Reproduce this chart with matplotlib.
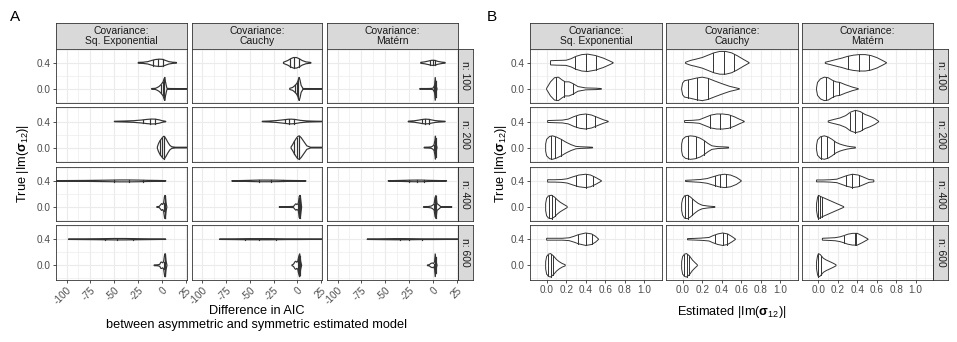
import numpy as np
import matplotlib.pyplot as plt

plt.rcParams.update({
    "font.family": ["Liberation Sans", "DejaVu Sans"],
    "mathtext.fontset": "custom",
    "mathtext.rm": "Liberation Sans",
    "mathtext.it": "Liberation Sans:italic",
    "mathtext.bf": "Liberation Sans:bold",
    "axes.unicode_minus": False,
})

# facets
covariances = ["Covariance:\nSq. Exponential", "Covariance:\nCauchy", "Covariance:\nMatérn"]
sample_sizes = [100, 200, 400, 600]
true_values = [0.0, 0.4]

aic_ticks = [-100, -75, -50, -25, 0, 25]
est_ticks = [0.0, 0.2, 0.4, 0.6, 0.8, 1.0]
y_ticks = [0.0, 0.4]

# violins: (x knots, relative half width, quantile lines)
# per sample size: [Sq. Exponential, Cauchy, Matern], each [true 0.0, true 0.4]
aic_n100 = [
    [([-11, -7, -5, -3, -1, 1, 2, 2.8, 3.5, 5, 8, 26],
      [0.03, 0.05, 0.12, 0.22, 0.38, 0.6, 0.85, 1.0, 0.6, 0.05, 0.03, 0.02], [-1.5, 0.5, 2]),
     ([-25, -20, -15, -11, -7, -3, 0, 3, 7, 11, 15],
      [0.04, 0.05, 0.1, 0.2, 0.28, 0.31, 0.3, 0.22, 0.1, 0.05, 0.03], [-9.5, -4, 0.5])],
    [([-8, -5, -3, -1, 0, 1, 1.5, 2, 3, 4, 6, 26],
      [0.05, 0.12, 0.25, 0.42, 0.55, 0.75, 0.9, 1.0, 0.7, 0.3, 0.03, 0.02], [-2.5, -0.5, 1.2]),
     ([-14.6, -10, -7, -4, -1, 2, 5, 9, 14.3],
      [0.05, 0.2, 0.35, 0.45, 0.45, 0.35, 0.2, 0.08, 0.03], [-7.6, -3, 2.2])],
    [([-14, -6, -2, 0, 1.5, 2.2, 3, 4],
      [0.03, 0.03, 0.04, 0.07, 0.3, 1.0, 0.3, 0.02], [1.2, 2, 2.6]),
     ([-13, -9, -5, -2, 0, 2, 5, 9, 12.6],
      [0.04, 0.08, 0.15, 0.21, 0.22, 0.2, 0.12, 0.06, 0.03], [-3, -0.5, 2])],
]
aic_n200 = [
    [([-5, -4, -2.5, -1, 0.5, 1.5, 2.5, 4, 6, 8, 10, 14, 26],
      [0.05, 0.3, 0.55, 0.72, 0.88, 0.96, 0.93, 0.75, 0.45, 0.2, 0.07, 0.03, 0.03], [-2, 0, 2]),
     ([-50, -40, -30, -22, -16, -11, -7, -3, 0, 3.8],
      [0.02, 0.04, 0.07, 0.12, 0.18, 0.21, 0.2, 0.14, 0.07, 0.02], [-19.5, -12.6, -7.3])],
    [([-6.6, -5, -3, -1, 0.5, 2, 4, 7, 10, 14, 26],
      [0.05, 0.25, 0.55, 0.8, 0.95, 1.0, 0.85, 0.5, 0.15, 0.03, 0.03], [-3, -0.5, 1.5]),
     ([-37, -30, -22, -15, -10, -6, -2, 3, 10, 18, 26],
      [0.02, 0.04, 0.08, 0.14, 0.19, 0.2, 0.17, 0.1, 0.05, 0.03, 0.02], [-13, -8.4, -3])],
    [([-9.4, -5, -2, -0.5, 1, 1.8, 2.4, 3, 4],
      [0.03, 0.04, 0.06, 0.12, 0.25, 0.6, 1.0, 0.35, 0.02], [0.5, 1.8, 2.6]),
     ([-26, -20, -15, -11, -8, -5, -2, 2, 6, 12.6],
      [0.03, 0.06, 0.12, 0.18, 0.2, 0.19, 0.14, 0.08, 0.05, 0.02], [-12, -8.4, -4])],
]
aic_n400 = [
    [([-5.6, -3, -1.5, -0.5, 0.5, 1.5, 2.5, 3.2, 4, 4.9],
      [0.03, 0.05, 0.2, 0.3, 0.2, 0.35, 0.9, 1.0, 0.4, 0.02], [1.5, 2.5, 3.3]),
     ([-125, -100, -80, -60, -45, -35, -25, -15, -5, 0, 3.8],
      [0.02, 0.03, 0.04, 0.06, 0.08, 0.08, 0.07, 0.05, 0.04, 0.03, 0.02], [-50, -35, -20])],
    [([-19, -10, -4, -2.5, -1.5, -0.5, 1, 2, 3, 4.5],
      [0.03, 0.03, 0.05, 0.2, 0.28, 0.2, 0.3, 0.9, 1.0, 0.02], [0.5, 1.8, 2.6]),
     ([-69, -60, -50, -40, -30, -20, -10, 0, 9],
      [0.02, 0.03, 0.05, 0.07, 0.07, 0.06, 0.04, 0.03, 0.02], [-40, -28, -15])],
    [([-10, -5, -2, -0.5, 1, 2, 3, 4, 8, 19.5],
      [0.03, 0.04, 0.08, 0.15, 0.25, 0.8, 1.0, 0.3, 0.03, 0.02], [0.5, 2, 2.8]),
     ([-47, -40, -30, -20, -12, -5, 0, 6, 14],
      [0.02, 0.03, 0.05, 0.07, 0.07, 0.05, 0.04, 0.03, 0.02], [-25, -17, -10])],
]
aic_n600 = [
    [([-8.4, -5, -2.5, -1.5, -0.5, 0.5, 1.5, 2.5, 3.2, 4, 5],
      [0.03, 0.04, 0.08, 0.25, 0.28, 0.2, 0.3, 0.85, 1.0, 0.4, 0.02], [1.5, 2.5, 3.3]),
     ([-98, -85, -70, -60, -50, -40, -30, -20, -10, 0, 3.8],
      [0.02, 0.03, 0.04, 0.05, 0.06, 0.06, 0.05, 0.04, 0.03, 0.02, 0.02], [-60, -47, -30])],
    [([-5.6, -4, -2.5, -1.5, -0.5, 0.5, 1.5, 2.5, 3.5, 4.5],
      [0.03, 0.1, 0.3, 0.35, 0.25, 0.35, 0.75, 1.0, 0.35, 0.02], [1, 2, 2.8]),
     ([-82, -70, -60, -50, -40, -30, -20, -10, 0, 15, 30],
      [0.02, 0.03, 0.04, 0.05, 0.05, 0.05, 0.04, 0.03, 0.03, 0.02, 0.02], [-55, -40, -22])],
    [([-6, -4, -2.5, -1, 0.5, 1.5, 2.2, 3, 4],
      [0.03, 0.05, 0.15, 0.2, 0.15, 0.3, 1.0, 0.35, 0.02], [0.5, 1.8, 2.6]),
     ([-69, -60, -50, -40, -30, -20, -10, 0, 15, 30],
      [0.02, 0.03, 0.04, 0.05, 0.05, 0.04, 0.03, 0.03, 0.02, 0.02], [-35, -25, -12])],
]

est_n100 = [
    [([0.0, 0.04, 0.08, 0.12, 0.16, 0.19, 0.23, 0.27, 0.32, 0.4, 0.5, 0.56],
      [0.05, 0.6, 0.95, 1.0, 0.75, 0.6, 0.6, 0.45, 0.2, 0.08, 0.06, 0.03], [0.10, 0.18, 0.27]),
     ([0.04, 0.1, 0.2, 0.25, 0.3, 0.36, 0.42, 0.5, 0.58, 0.64, 0.68],
      [0.18, 0.2, 0.22, 0.35, 0.55, 0.7, 0.74, 0.62, 0.4, 0.18, 0.02], [0.29, 0.405, 0.51])],
    [([-0.01, 0.0, 0.02, 0.08, 0.14, 0.2, 0.26, 0.32, 0.4, 0.48, 0.55, 0.58],
      [0.05, 0.5, 0.7, 0.8, 0.92, 1.0, 0.9, 0.7, 0.45, 0.22, 0.08, 0.02], [0.05, 0.15, 0.26]),
     ([0.03, 0.08, 0.14, 0.2, 0.26, 0.32, 0.38, 0.44, 0.5, 0.56, 0.62, 0.68],
      [0.05, 0.2, 0.32, 0.45, 0.65, 0.85, 0.97, 0.97, 0.85, 0.6, 0.3, 0.02], [0.31, 0.42, 0.53])],
    [([-0.02, -0.01, 0.02, 0.06, 0.1, 0.14, 0.18, 0.22, 0.28, 0.35, 0.41],
      [0.1, 0.55, 0.85, 1.0, 0.95, 0.75, 0.6, 0.55, 0.35, 0.15, 0.02], [0.08, 0.15, 0.21]),
     ([0.07, 0.12, 0.18, 0.24, 0.3, 0.36, 0.42, 0.48, 0.54, 0.6, 0.66, 0.7],
      [0.05, 0.15, 0.28, 0.4, 0.55, 0.65, 0.7, 0.7, 0.62, 0.45, 0.2, 0.02], [0.30, 0.42, 0.52])],
]
est_n200 = [
    [([-0.01, 0.0, 0.03, 0.06, 0.1, 0.15, 0.2, 0.25, 0.3, 0.35, 0.42, 0.47],
      [0.3, 0.7, 0.95, 1.0, 0.9, 0.7, 0.45, 0.25, 0.1, 0.07, 0.05, 0.03], [0.04, 0.09, 0.15]),
     ([0.01, 0.08, 0.16, 0.22, 0.28, 0.34, 0.4, 0.46, 0.52, 0.58, 0.63],
      [0.08, 0.1, 0.12, 0.2, 0.42, 0.58, 0.64, 0.55, 0.35, 0.15, 0.02], [0.30, 0.40, 0.49])],
    [([-0.01, 0.0, 0.03, 0.08, 0.13, 0.18, 0.22, 0.26, 0.3, 0.36, 0.42, 0.47],
      [0.3, 0.7, 0.92, 1.0, 0.95, 0.8, 0.6, 0.35, 0.15, 0.08, 0.06, 0.04], [0.06, 0.14, 0.22]),
     ([0.02, 0.1, 0.17, 0.23, 0.29, 0.35, 0.41, 0.47, 0.53, 0.58, 0.63],
      [0.08, 0.1, 0.15, 0.35, 0.55, 0.64, 0.64, 0.58, 0.4, 0.2, 0.02], [0.28, 0.38, 0.48])],
    [([-0.02, -0.01, 0.02, 0.06, 0.1, 0.14, 0.18, 0.22, 0.26, 0.3, 0.34, 0.38],
      [0.2, 0.65, 0.92, 1.0, 0.9, 0.7, 0.45, 0.3, 0.2, 0.12, 0.07, 0.04], [0.03, 0.09, 0.16]),
     ([0.1, 0.16, 0.22, 0.28, 0.33, 0.38, 0.43, 0.48, 0.53, 0.58, 0.62],
      [0.05, 0.18, 0.3, 0.5, 0.8, 0.95, 0.85, 0.6, 0.45, 0.25, 0.02], [0.32, 0.38, 0.45])],
]
est_n400 = [
    [([-0.01, 0.0, 0.02, 0.05, 0.08, 0.11, 0.14, 0.17, 0.21],
      [0.3, 0.75, 0.95, 1.0, 0.85, 0.6, 0.4, 0.25, 0.05], [0.02, 0.05, 0.09]),
     ([0.01, 0.08, 0.15, 0.21, 0.27, 0.33, 0.4, 0.45, 0.5, 0.56],
      [0.1, 0.1, 0.12, 0.18, 0.35, 0.5, 0.57, 0.5, 0.3, 0.02], [0.30, 0.40, 0.47])],
    [([-0.01, 0.0, 0.02, 0.05, 0.08, 0.12, 0.16, 0.2, 0.26, 0.33],
      [0.3, 0.7, 0.95, 1.0, 0.85, 0.55, 0.3, 0.15, 0.08, 0.03], [0.02, 0.05, 0.1]),
     ([0.03, 0.1, 0.18, 0.25, 0.31, 0.37, 0.43, 0.49, 0.55, 0.6],
      [0.05, 0.08, 0.12, 0.2, 0.35, 0.5, 0.57, 0.5, 0.3, 0.02], [0.33, 0.38, 0.44])],
    [([-0.02, -0.01, 0.0, 0.02, 0.26],
      [0.3, 0.8, 1.0, 0.9, 0.03], [0.0, 0.02, 0.04]),
     ([-0.02, 0.05, 0.12, 0.19, 0.24, 0.29, 0.35, 0.41, 0.47, 0.52, 0.57],
      [0.08, 0.08, 0.1, 0.15, 0.3, 0.45, 0.57, 0.5, 0.3, 0.12, 0.08], [0.28, 0.35, 0.42])],
]
est_n600 = [
    [([-0.01, 0.0, 0.02, 0.04, 0.07, 0.1, 0.13, 0.16, 0.19],
      [0.3, 0.75, 0.95, 1.0, 0.8, 0.5, 0.3, 0.15, 0.05], [0.01, 0.04, 0.07]),
     ([0.0, 0.08, 0.16, 0.23, 0.28, 0.33, 0.4, 0.46, 0.5, 0.53],
      [0.08, 0.08, 0.08, 0.12, 0.25, 0.4, 0.53, 0.45, 0.25, 0.02], [0.32, 0.40, 0.46])],
    [([-0.01, 0.0, 0.02, 0.04, 0.07, 0.1, 0.13, 0.15],
      [0.3, 0.75, 0.95, 1.0, 0.8, 0.45, 0.2, 0.05], [0.01, 0.04, 0.07]),
     ([0.05, 0.12, 0.2, 0.27, 0.31, 0.36, 0.41, 0.46, 0.5, 0.54],
      [0.05, 0.07, 0.1, 0.15, 0.3, 0.45, 0.53, 0.45, 0.25, 0.02], [0.33, 0.41, 0.45])],
    [([-0.02, -0.01, 0.0, 0.02, 0.05, 0.08, 0.12, 0.15, 0.18],
      [0.3, 0.8, 1.0, 0.9, 0.6, 0.45, 0.3, 0.18, 0.05], [-0.01, 0.0, 0.03]),
     ([0.04, 0.1, 0.17, 0.22, 0.26, 0.3, 0.35, 0.4, 0.45, 0.51],
      [0.08, 0.1, 0.13, 0.2, 0.3, 0.42, 0.5, 0.5, 0.3, 0.02], [0.26, 0.38, 0.39])],
]

W, H = 957, 342
EDGE = "#333333"
GRID = "#EBEBEB"
STRIP = "#D9D9D9"
HALF = 0.18  # max violin half width in y units

row_tops = [48.6, 107.3, 166.7, 225.0]
row_h = 54.5


def px_axes(fig, x0, y0, x1, y1):
    return fig.add_axes([x0 / W, 1 - y1 / H, (x1 - x0) / W, (y1 - y0) / H])


def draw_violin(ax, y0, shape, lw):
    xs, ws, qs = shape
    xs = np.asarray(xs, float)
    hw = np.asarray(ws, float) * HALF
    ax.fill(np.r_[xs, xs[::-1]], np.r_[y0 + hw, (y0 - hw)[::-1]],
            fc="white", ec=EDGE, lw=lw, zorder=3)
    for q in qs:
        h = np.interp(q, xs, hw)
        ax.plot([q, q], [y0 - h, y0 + h], color=EDGE, lw=lw, zorder=4)


def style_strip(ax):
    ax.set_facecolor(STRIP)
    ax.set_xticks([])
    ax.set_yticks([])
    for s in ax.spines.values():
        s.set_color(EDGE)
        s.set_linewidth(0.6)


def draw_grid(fig, cols, strip_x, rows_data, xlim, xticks, xminor, rotate, xlabels, lw):
    for j, (x0, x1) in enumerate(cols):
        sax = px_axes(fig, x0, 23, x1, row_tops[0])
        style_strip(sax)
        sax.text(0.5, 0.5, covariances[j], ha="center", va="center",
                 fontsize=7.5, color="#1A1A1A", linespacing=1.05, transform=sax.transAxes)
    for i, row in enumerate(rows_data):
        top = row_tops[i]
        rax = px_axes(fig, strip_x[0], top, strip_x[1], top + row_h)
        style_strip(rax)
        rax.text(0.5, 0.5, f"n: {sample_sizes[i]}", ha="center", va="center",
                 rotation=-90, fontsize=7.5, color="#1A1A1A", transform=rax.transAxes)
        for j, (x0, x1) in enumerate(cols):
            ax = px_axes(fig, x0, top, x1, top + row_h)
            ax.set_xlim(*xlim)
            ax.set_ylim(-0.218, 0.618)
            ax.set_xticks(xticks)
            ax.set_xticks(xminor, minor=True)
            ax.set_yticks(y_ticks)
            ax.set_yticks([-0.2, 0.2, 0.6], minor=True)
            ax.grid(which="major", color=GRID, lw=0.8, zorder=0)
            ax.grid(which="minor", color=GRID, lw=0.45, zorder=0)
            ax.set_axisbelow(True)
            for s in ax.spines.values():
                s.set_color(EDGE)
                s.set_linewidth(0.6)
                s.set_zorder(5)
            ax.tick_params(which="minor", length=0)
            ax.tick_params(which="major", length=2.5, width=0.6, color=EDGE,
                           labelsize=7.2, labelcolor="#4D4D4D", pad=1.5)
            if j == 0:
                ax.set_yticklabels(["0.0", "0.4"])
            else:
                ax.tick_params(axis="y", which="major", length=0, labelleft=False)
            if i == len(rows_data) - 1:
                if rotate:
                    ax.set_xticklabels(xlabels, rotation=45, ha="right",
                                       va="top", rotation_mode="anchor")
                else:
                    ax.set_xticklabels(xlabels)
            else:
                ax.tick_params(axis="x", which="major", length=0, labelbottom=False)
            for k, yv in enumerate(true_values):
                draw_violin(ax, yv, row[j][k], lw)


fig = plt.figure(figsize=(W / 100, H / 100), dpi=100)

# panel A
a_cols = [(56, 187), (192, 322), (327, 458)]
draw_grid(fig, a_cols, (458, 473), [aic_n100, aic_n200, aic_n400, aic_n600],
          (-111, 26), aic_ticks, [-87.5, -62.5, -37.5, -12.5, 12.5], True,
          [str(t) for t in aic_ticks], 0.85)

# panel B
b_cols = [(530, 662), (666, 798), (802, 933)]
draw_grid(fig, b_cols, (933, 948), [est_n100, est_n200, est_n400, est_n600],
          (-0.17, 1.18), est_ticks, [-0.1, 0.1, 0.3, 0.5, 0.7, 0.9, 1.1], False,
          [f"{t:.1f}" for t in est_ticks], 0.7)

fig.text(10 / W, 1 - 17 / H, "A", fontsize=11, va="center", ha="left")
fig.text(487 / W, 1 - 17 / H, "B", fontsize=11, va="center", ha="left")

ylab = r"True |Im($\mathbf{\sigma}_{12}$)|"
fig.text(23 / W, 1 - 164 / H, ylab, rotation=90, fontsize=9.2, ha="center", va="center")
fig.text(501 / W, 1 - 164 / H, ylab, rotation=90, fontsize=9.2, ha="center", va="center")

fig.text(257 / W, 1 - 318 / H,
         "Difference in AIC\nbetween asymmetric and symmetric estimated model",
         fontsize=9.2, ha="center", va="center", linespacing=1.15)
fig.text(731.5 / W, 1 - 312 / H, r"Estimated |Im($\mathbf{\sigma}_{12}$)|",
         fontsize=9.2, ha="center", va="center")

fig.savefig("out.png", dpi=100)
